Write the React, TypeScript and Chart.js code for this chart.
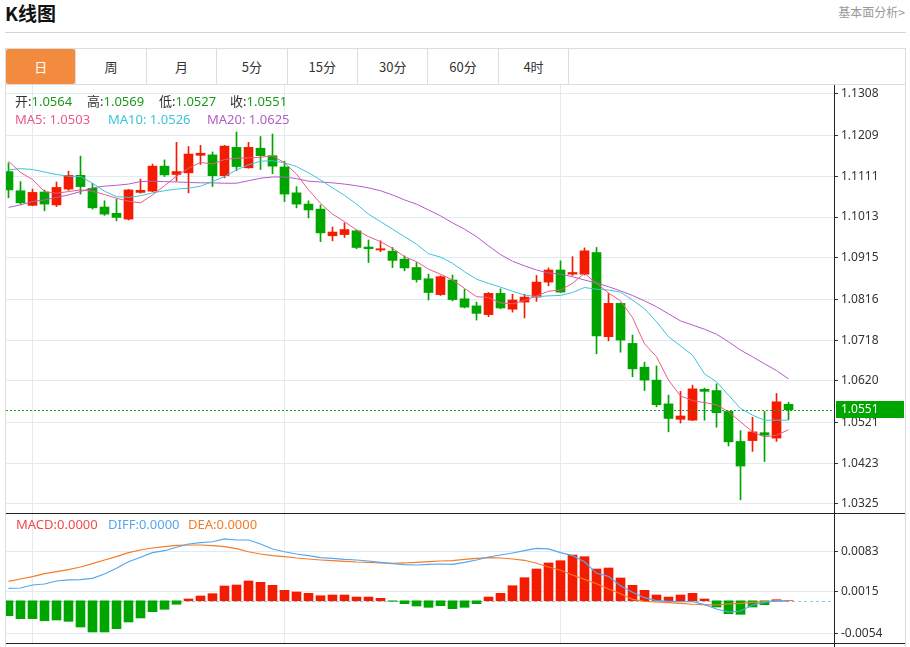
import React, { useEffect, useRef } from "react";
import { Chart, registerables } from "chart.js";

Chart.register(...registerables);

// ---------- data ----------
const OPEN = [
  1.1122, 1.1076, 1.1041, 1.1073, 1.1042, 1.1080, 1.1113, 1.1082, 1.1037, 1.1022,
  1.1008, 1.1072, 1.1075, 1.1135, 1.1115, 1.1119, 1.1161, 1.1162, 1.1112, 1.1180,
  1.1131, 1.1178, 1.1160, 1.1133, 1.1071, 1.1044, 1.1032, 1.0968, 1.0971, 1.0980,
  1.0941, 1.0934, 1.0931, 1.0912, 1.0892, 1.0865, 1.0827, 1.0862, 1.0817, 1.0800,
  1.0779, 1.0830, 1.0792, 1.0809, 1.0821, 1.0857, 1.0886, 1.0876, 1.0876, 1.0928,
  1.0726, 1.0806, 1.0710, 1.0653, 1.0622, 1.0565, 1.0528, 1.0526, 1.0600, 1.0597,
  1.0547, 1.0475, 1.0477, 1.0496, 1.0483, 1.0564,
];
const HIGH = [
  1.1143, 1.1098, 1.1080, 1.1078, 1.1097, 1.1123, 1.1159, 1.1094, 1.1052, 1.1056,
  1.1079, 1.1104, 1.1140, 1.1150, 1.1192, 1.1182, 1.1185, 1.1169, 1.1185, 1.1217,
  1.1192, 1.1206, 1.1212, 1.1147, 1.1086, 1.1052, 1.1042, 1.0989, 1.0999, 1.0982,
  1.0958, 1.0956, 1.0940, 1.0920, 1.0904, 1.0876, 1.0872, 1.0874, 1.0840, 1.0809,
  1.0832, 1.0841, 1.0828, 1.0828, 1.0873, 1.0891, 1.0908, 1.0918, 1.0939, 1.0940,
  1.0830, 1.0807, 1.0730, 1.0665, 1.0656, 1.0586, 1.0595, 1.0610, 1.0603, 1.0613,
  1.0548, 1.0501, 1.0533, 1.0547, 1.0590, 1.0569,
];
const LOW = [
  1.1059, 1.1044, 1.1040, 1.1028, 1.1038, 1.1077, 1.1068, 1.1032, 1.1017, 1.1004,
  1.1006, 1.1070, 1.1074, 1.1110, 1.1099, 1.1071, 1.1139, 1.1086, 1.1107, 1.1124,
  1.1130, 1.1127, 1.1117, 1.1050, 1.1035, 1.1011, 1.0954, 1.0956, 1.0964, 1.0937,
  1.0904, 1.0930, 1.0892, 1.0884, 1.0857, 1.0814, 1.0825, 1.0812, 1.0795, 1.0766,
  1.0774, 1.0793, 1.0785, 1.0771, 1.0811, 1.0848, 1.0832, 1.0873, 1.0874, 1.0685,
  1.0716, 1.0689, 1.0630, 1.0597, 1.0558, 1.0498, 1.0519, 1.0525, 1.0526, 1.0509,
  1.0464, 1.0335, 1.0451, 1.0427, 1.0475, 1.0527,
];
const CLOSE = [
  1.1078, 1.1047, 1.1072, 1.1044, 1.1084, 1.1113, 1.1086, 1.1035, 1.1020, 1.1012,
  1.1078, 1.1077, 1.1135, 1.1114, 1.1122, 1.1164, 1.1166, 1.1112, 1.1183, 1.1134,
  1.1180, 1.1160, 1.1135, 1.1068, 1.1044, 1.1030, 1.0975, 1.0977, 1.0983, 1.0940,
  1.0937, 1.0937, 1.0909, 1.0891, 1.0863, 1.0832, 1.0870, 1.0815, 1.0797, 1.0782,
  1.0830, 1.0795, 1.0814, 1.0821, 1.0857, 1.0886, 1.0833, 1.0880, 1.0932, 1.0728,
  1.0806, 1.0718, 1.0649, 1.0622, 1.0563, 1.0530, 1.0536, 1.0601, 1.0595, 1.0544,
  1.0474, 1.0416, 1.0498, 1.0490, 1.0570, 1.0551,
];
const MA5 = [
  1.1147, 1.1120, 1.1103, 1.1074, 1.1070, 1.1074, 1.1078, 1.1075, 1.1067, 1.1058,
  1.1051, 1.1047, 1.1066, 1.1088, 1.1111, 1.1130, 1.1144, 1.1140, 1.1151, 1.1154,
  1.1155, 1.1156, 1.1160, 1.1143, 1.1116, 1.1078, 1.1046, 1.1020, 1.1002, 1.0982,
  1.0966, 1.0954, 1.0938, 1.0918, 1.0906, 1.0888, 1.0876, 1.0862, 1.0842, 1.0822,
  1.0820, 1.0807, 1.0805, 1.0813, 1.0824, 1.0835, 1.0838, 1.0854, 1.0878, 1.0854,
  1.0831, 1.0812, 1.0772, 1.0709, 1.0678, 1.0622, 1.0584, 1.0573, 1.0568, 1.0563,
  1.0546, 1.0522, 1.0498, 1.0486, 1.0490, 1.0503,
];
const MA10 = [
  1.1126, 1.1129, 1.1127, 1.1121, 1.1115, 1.1111, 1.1110, 1.1094, 1.1075, 1.1062,
  1.1060, 1.1064, 1.1071, 1.1076, 1.1080, 1.1082, 1.1087, 1.1098, 1.1110, 1.1126,
  1.1138, 1.1147, 1.1148, 1.1143, 1.1134, 1.1119, 1.1102, 1.1083, 1.1065, 1.1044,
  1.1020, 1.1002, 1.0984, 1.0966, 1.0948, 1.0925, 1.0917, 1.0902, 1.0882, 1.0864,
  1.0854, 1.0845, 1.0835, 1.0826, 1.0822, 1.0824, 1.0825, 1.0832, 1.0844, 1.0840,
  1.0838, 1.0833, 1.0814, 1.0793, 1.0762, 1.0726, 1.0704, 1.0682, 1.0637, 1.0618,
  1.0586, 1.0554, 1.0538, 1.0526, 1.0526, 1.0526,
];
const MA20 = [
  1.1036, 1.1042, 1.1050, 1.1054, 1.1060, 1.1066, 1.1074, 1.1083, 1.1087, 1.1089,
  1.1092, 1.1098, 1.1099, 1.1098, 1.1097, 1.1096, 1.1095, 1.1095, 1.1094, 1.1094,
  1.1100, 1.1106, 1.1109, 1.1109, 1.1105, 1.1099, 1.1097, 1.1095, 1.1092, 1.1088,
  1.1083, 1.1076, 1.1066, 1.1054, 1.1044, 1.1030, 1.1016, 1.0999, 1.0984, 1.0966,
  1.0944, 1.0923, 1.0907, 1.0896, 1.0886, 1.0879, 1.0876, 1.0870, 1.0862, 1.0855,
  1.0846, 1.0836, 1.0825, 1.0812, 1.0798, 1.0781, 1.0764, 1.0754, 1.0744, 1.0732,
  1.0714, 1.0694, 1.0678, 1.0661, 1.0645, 1.0625,
];
const MACD = [
  -0.00249, -0.00299, -0.00299, -0.00333, -0.00321, -0.00343, -0.00438, -0.00521, -0.00521, -0.00466,
  -0.00354, -0.00287, -0.00182, -0.00142, -0.00058, 0.00030, 0.00080, 0.00119, 0.00247, 0.00264,
  0.00331, 0.00309, 0.00259, 0.00175, 0.00147, 0.00125, 0.00085, 0.00097, 0.00097, 0.00063,
  0.00063, 0.00042, -0.00008, -0.00048, -0.00087, -0.00109, -0.00082, -0.00132, -0.00109, -0.00048,
  0.00063, 0.00125, 0.00252, 0.00386, 0.00531, 0.00632, 0.00670, 0.00765, 0.00737, 0.00531,
  0.00548, 0.00381, 0.00259, 0.00175, 0.00097, 0.00063, 0.00097, 0.00125, 0.00030, -0.00104,
  -0.00216, -0.00226, -0.00104, -0.00065, 0.00018, 0.00002,
];
const DIFF = [
  0.00209, 0.00214, 0.00264, 0.00281, 0.00331, 0.00348, 0.00353, 0.00376, 0.00448, 0.00543,
  0.00653, 0.00727, 0.00804, 0.00837, 0.00894, 0.00949, 0.00971, 0.00987, 0.01033, 0.01016,
  0.01016, 0.00949, 0.00866, 0.00820, 0.00782, 0.00754, 0.00720, 0.00710, 0.00693, 0.00682,
  0.00665, 0.00643, 0.00620, 0.00603, 0.00598, 0.00610, 0.00615, 0.00610, 0.00643, 0.00682,
  0.00732, 0.00765, 0.00799, 0.00837, 0.00877, 0.00866, 0.00804, 0.00754, 0.00653, 0.00459,
  0.00409, 0.00252, 0.00142, 0.00052, 0.00002, -0.00008, -0.00015, -0.00015, -0.00065, -0.00137,
  -0.00187, -0.00170, -0.00070, -0.00025, 0.00002, -0.00003,
];
const DEA = [
  0.00326, 0.00364, 0.00403, 0.00453, 0.00486, 0.00520, 0.00565, 0.00620, 0.00682, 0.00737,
  0.00804, 0.00849, 0.00882, 0.00904, 0.00927, 0.00932, 0.00932, 0.00921, 0.00904, 0.00871,
  0.00820, 0.00782, 0.00754, 0.00737, 0.00715, 0.00698, 0.00682, 0.00670, 0.00660, 0.00648,
  0.00643, 0.00632, 0.00627, 0.00632, 0.00643, 0.00653, 0.00665, 0.00670, 0.00693, 0.00710,
  0.00720, 0.00715, 0.00698, 0.00677, 0.00627, 0.00565, 0.00510, 0.00431, 0.00359, 0.00286,
  0.00197, 0.00119, 0.00025, -0.00008, -0.00020, -0.00032, -0.00042, -0.00058, -0.00065, -0.00070,
  -0.00053, -0.00042, -0.00025, -0.00015, -0.00003, -0.00003,
];
const PRICE_TICKS = [1.0325, 1.0423, 1.0521, 1.0620, 1.0718, 1.0816, 1.0915, 1.1013, 1.1111, 1.1209, 1.1308];
const MACD_TICKS = [-0.0054, 0.0015, 0.0083];
const GRID_DAYS = [2, 23, 46];
const TABS = ["日", "周", "月", "5分", "15分", "30分", "60分", "4时"];
const MACD_LEGEND = ["0.0000", "0.0000", "0.0000"];

// ---------- styles ----------
const RED = "#f31c00";
const GREEN = "#00a600";
const C_MA5 = "#ec5a88";
const C_MA10 = "#3ec3dc";
const C_MA20 = "#b55cc8";
const C_DIFF = "#56a7f0";
const C_DEA = "#f47b28";
const GRID = "#e3ebf2";
const FONT = "'Noto Sans', 'Noto Sans CJK SC', sans-serif";

const X_MIN = -0.208;
const X_MAX = 68.79;

const fmt = (v: number) => v.toFixed(4);

function xScale(): any {
  return {
    type: "linear",
    min: X_MIN,
    max: X_MAX,
    offset: false,
    bounds: "data",
    grace: 0,
    afterDataLimits: (s: any) => {
      s.min = X_MIN;
      s.max = X_MAX;
    },
    afterBuildTicks: (s: any) => {
      s.ticks = GRID_DAYS.map((v) => ({ value: v }));
    },
    afterFit: (s: any) => {
      s.height = 0;
      s.paddingLeft = 0;
      s.paddingRight = 0;
    },
    ticks: { display: false },
    grid: { color: GRID, drawTicks: false, lineWidth: 1, offset: false },
    border: { display: false },
  };
}

function yScale(min: number, max: number, ticks: number[]): any {
  return {
    type: "linear",
    position: "right",
    min,
    max,
    beginAtZero: false,
    afterBuildTicks: (s: any) => {
      s.ticks = ticks.map((v) => ({ value: v }));
    },
    afterFit: (s: any) => {
      s.width = 71;
      s.paddingTop = 0;
      s.paddingBottom = 0;
    },
    ticks: {
      autoSkip: false,
      padding: 3,
      color: "#333",
      font: { family: FONT, size: 12 },
      callback: (v: any) => fmt(Number(v)),
    },
    grid: { color: GRID, tickColor: "#333", tickLength: 4, drawTicks: true },
    border: { display: false },
  };
}

export default function App() {
  const mainRef = useRef<HTMLCanvasElement>(null);
  const macdRef = useRef<HTMLCanvasElement>(null);

  useEffect(() => {
    const idx = CLOSE.map((_, i) => i);
    const colors = idx.map((i) => (CLOSE[i] >= OPEN[i] ? RED : GREEN));
    const last = CLOSE[CLOSE.length - 1];

    const priceLine = {
      id: "priceLine",
      afterDatasetsDraw(chart: any) {
        const { ctx, chartArea } = chart;
        const y = Math.round(chart.scales.y.getPixelForValue(last)) + 0.5;
        ctx.save();
        ctx.strokeStyle = "#1f9f1f";
        ctx.lineWidth = 1;
        ctx.setLineDash([2, 2]);
        ctx.beginPath();
        ctx.moveTo(chartArea.left, y);
        ctx.lineTo(chartArea.right, y);
        ctx.stroke();
        ctx.restore();
      },
      afterDraw(chart: any) {
        const { ctx, chartArea } = chart;
        const y = Math.round(chart.scales.y.getPixelForValue(last));
        ctx.save();
        ctx.fillStyle = GREEN;
        ctx.fillRect(chartArea.right + 2, y - 9, 68, 17);
        ctx.fillStyle = "#fff";
        ctx.font = `12px ${FONT}`;
        ctx.textBaseline = "middle";
        ctx.textAlign = "left";
        ctx.fillText(fmt(last), chartArea.right + 7, y);
        ctx.restore();
      },
    };

    const zeroLine = {
      id: "zeroLine",
      beforeDatasetsDraw(chart: any) {
        const { ctx, chartArea } = chart;
        const y = Math.round(chart.scales.y.getPixelForValue(0)) + 0.5;
        ctx.save();
        ctx.strokeStyle = "#8ecbe8";
        ctx.lineWidth = 1;
        ctx.setLineDash([3, 3]);
        ctx.beginPath();
        ctx.moveTo(chartArea.left, y);
        ctx.lineTo(chartArea.right - 3, y);
        ctx.stroke();
        ctx.restore();
      },
    };

    const line = (data: number[], color: string, width = 1) => ({
      type: "line" as const,
      data: data.map((v, i) => ({ x: i, y: v })),
      borderColor: color,
      borderWidth: width,
      pointRadius: 0,
      tension: 0,
      fill: false,
      order: 0,
    });

    const main = new Chart(mainRef.current!, {
      type: "bar",
      data: {
        datasets: [
          {
            type: "bar",
            data: idx.map((i) => ({ x: i, y: [LOW[i], HIGH[i]] })),
            backgroundColor: colors,
            barThickness: 1,
            grouped: false,
            borderWidth: 0,
            order: 2,
          } as any,
          {
            type: "bar",
            data: idx.map((i) => ({ x: i, y: [OPEN[i], CLOSE[i]] })),
            backgroundColor: colors,
            barThickness: 9,
            minBarLength: 1,
            grouped: false,
            borderWidth: 0,
            order: 1,
          } as any,
          line(MA5, C_MA5),
          line(MA10, C_MA10),
          line(MA20, C_MA20),
        ],
      },
      options: {
        animation: false,
        responsive: false,
        events: [],
        layout: { padding: 0 },
        plugins: { legend: { display: false }, tooltip: { enabled: false } },
        scales: {
          x: xScale(),
          y: yScale(1.030342, 1.132955, PRICE_TICKS),
        },
      } as any,
      plugins: [priceLine],
    });

    const macd = new Chart(macdRef.current!, {
      type: "bar",
      data: {
        datasets: [
          {
            type: "bar",
            data: MACD.map((v, i) => ({ x: i, y: v })),
            backgroundColor: MACD.map((v) => (v >= 0 ? RED : GREEN)),
            barThickness: 9,
            grouped: false,
            borderWidth: 0,
            order: 1,
          } as any,
          line(DIFF, C_DIFF, 1.2),
          line(DEA, C_DEA, 1.2),
        ],
      },
      options: {
        animation: false,
        responsive: false,
        events: [],
        layout: { padding: 0 },
        plugins: { legend: { display: false }, tooltip: { enabled: false } },
        scales: {
          x: xScale(),
          y: yScale(-0.007051, 0.01467, MACD_TICKS),
        },
      } as any,
      plugins: [zeroLine],
    });

    return () => {
      main.destroy();
      macd.destroy();
    };
  }, []);

  const n = CLOSE.length - 1;
  const abs = (l: number, t: number, extra: React.CSSProperties = {}): React.CSSProperties => ({
    position: "absolute",
    left: l,
    top: t,
    ...extra,
  });
  const legendItem = (l: number, t: number, label: string, value: string, lc: string, vc: string) => (
    <div style={abs(l, t, { fontSize: 13, lineHeight: "18px", whiteSpace: "nowrap" })}>
      <span style={{ color: lc }}>{label}</span>
      <span style={{ color: vc }}>{value}</span>
    </div>
  );

  return (
    <div
      style={{
        position: "absolute",
        left: 0,
        top: 0,
        width: 910,
        height: 647,
        overflow: "hidden",
        background: "#fff",
        fontFamily: FONT,
        color: "#333",
      }}
    >
      <div
        style={abs(5, 0, {
          fontSize: 19,
          fontWeight: 700,
          lineHeight: "26px",
          color: "#111",
          fontFamily: "'Noto Sans CJK SC', sans-serif",
        })}
      >
        K线图
      </div>
      <div
        style={{
          position: "absolute",
          right: 5,
          top: 4,
          fontSize: 12,
          lineHeight: "16px",
          color: "#999",
          fontFamily: "'Noto Sans CJK SC', sans-serif",
        }}
      >
        基本面分析&gt;
      </div>
      <div style={abs(5, 32, { width: 901, height: 1, background: "#d4d4d4" })} />

      {/* frame */}
      <div
        style={abs(5, 48, {
          width: 901,
          height: 610,
          boxSizing: "border-box",
          borderLeft: "1px solid #ddd",
          borderRight: "1px solid #ddd",
          borderTop: "1px solid #ddd",
        })}
      />
      <div style={abs(5, 84, { width: 901, height: 1, background: "#ddd" })} />
      {TABS.map((t, i) => (
        <div
          key={t}
          style={abs(6 + i * 70.4, 49, {
            width: 69.4,
            height: 35,
            borderRight: "1px solid #ddd",
            lineHeight: "35px",
            textAlign: "center",
            fontSize: 13,
            fontFamily: "'Noto Sans CJK SC', sans-serif",
            color: i === 0 ? "#fff" : "#333",
          })}
        >
          {i === 0 ? (
            <div
              style={{
                position: "absolute",
                left: 0,
                top: 0,
                width: 69.4,
                height: 35,
                background: "#f28b3e",
                borderRadius: 2,
              }}
            />
          ) : null}
          <span style={{ position: "relative" }}>{t}</span>
        </div>
      ))}

      <canvas ref={mainRef} width={899} height={428} style={abs(6, 85, { width: 899, height: 428 })} />
      <canvas ref={macdRef} width={899} height={130} style={abs(6, 513, { width: 899, height: 130 })} />

      {/* axis/separator lines */}
      <div style={abs(6, 513, { width: 899, height: 1, background: "#222" })} />
      <div style={abs(6, 643, { width: 899, height: 1, background: "#222" })} />
      <div style={abs(834, 85, { width: 1, height: 562, background: "#222" })} />

      {/* legends */}
      {legendItem(15, 92, "开:", fmt(OPEN[n]), "#333", "#1a9c1a")}
      {legendItem(87, 92, "高:", fmt(HIGH[n]), "#333", "#1a9c1a")}
      {legendItem(159, 92, "低:", fmt(LOW[n]), "#333", "#1a9c1a")}
      {legendItem(230, 92, "收:", fmt(CLOSE[n]), "#333", "#1a9c1a")}
      {legendItem(15, 110, "MA5: ", fmt(MA5[n]), C_MA5, C_MA5)}
      {legendItem(108, 110, "MA10: ", fmt(MA10[n]), C_MA10, C_MA10)}
      {legendItem(207, 110, "MA20: ", fmt(MA20[n]), C_MA20, C_MA20)}
      {legendItem(16, 515, "MACD:", MACD_LEGEND[0], "#f04a4a", "#f04a4a")}
      {legendItem(108, 515, "DIFF:", MACD_LEGEND[1], C_DIFF, C_DIFF)}
      {legendItem(188, 515, "DEA:", MACD_LEGEND[2], C_DEA, C_DEA)}
    </div>
  );
}
